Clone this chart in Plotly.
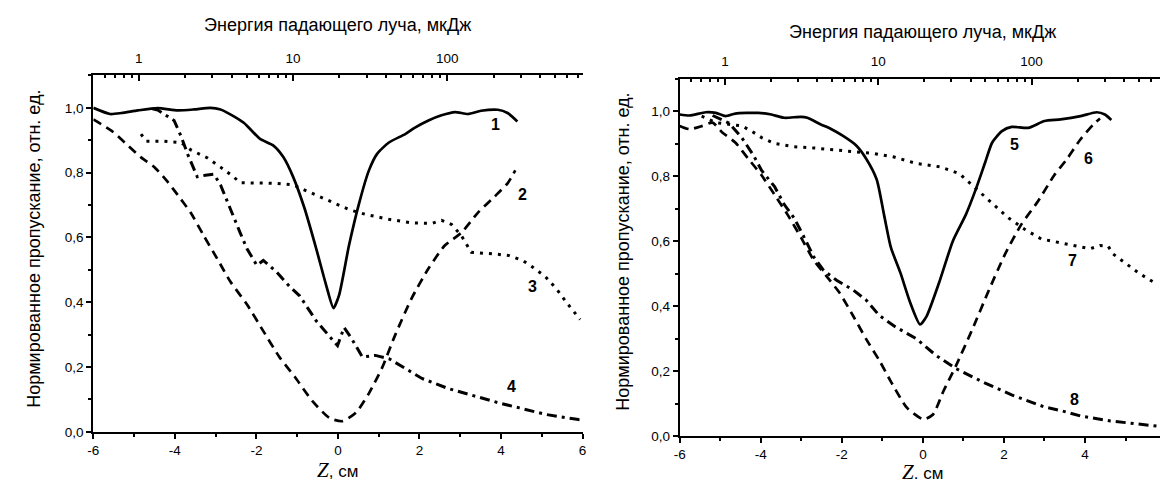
import plotly.graph_objects as go

# ---------------- data (left panel) ----------------
z1 = [-6.0, -5.59, -5.31, -4.91, -4.42, -3.93, -3.53, -3.13, -2.88, -2.64, -2.31, -2.15, -1.91, -1.59,
      -1.34, -1.10, -0.82, -0.53, -0.29, -0.11, 0.03, 0.27, 0.52, 0.76, 0.96, 1.25, 1.65, 1.89, 2.22,
      2.54, 2.87, 3.19, 3.51, 3.92, 4.16, 4.40]
v1 = [1.0, 0.981, 0.984, 0.992, 0.999, 0.992, 0.995, 1.0, 0.995, 0.98, 0.954, 0.934, 0.904, 0.884,
      0.848, 0.787, 0.69, 0.564, 0.453, 0.382, 0.423, 0.575, 0.706, 0.807, 0.858, 0.893, 0.919, 0.939,
      0.961, 0.977, 0.987, 0.981, 0.991, 0.994, 0.984, 0.958]

z2 = [-6.0, -5.55, -5.23, -4.83, -4.50, -4.18, -3.93, -3.61, -3.29, -2.96, -2.64, -2.23, -1.83, -1.43,
      -1.06, -0.62, -0.21, 0.11, 0.44, 0.76, 1.09, 1.41, 1.81, 2.22, 2.62, 3.03, 3.43, 3.84, 4.16, 4.35]
v2 = [0.964, 0.929, 0.893, 0.847, 0.817, 0.772, 0.731, 0.676, 0.605, 0.534, 0.464, 0.393, 0.311, 0.23,
      0.17, 0.094, 0.043, 0.033, 0.059, 0.119, 0.2, 0.301, 0.413, 0.504, 0.575, 0.615, 0.676, 0.726,
      0.767, 0.807]

z3 = [-4.83, -4.70, -4.26, -3.85, -3.61, -3.21, -2.88, -2.56, -2.40, -1.99, -1.51, -1.10, -0.78, -0.21,
      0.27, 0.68, 1.25, 1.81, 2.30, 2.54, 2.79, 3.03, 3.27, 3.84, 4.20, 4.53, 4.77, 5.09, 5.38, 5.62, 5.94]
v3 = [0.919, 0.897, 0.897, 0.893, 0.870, 0.846, 0.817, 0.787, 0.769, 0.767, 0.767, 0.762, 0.744, 0.711,
      0.686, 0.671, 0.656, 0.645, 0.643, 0.653, 0.640, 0.605, 0.554, 0.549, 0.544, 0.529, 0.509, 0.479,
      0.438, 0.397, 0.347]

z4 = [-4.55, -4.42, -4.02, -3.85, -3.69, -3.45, -3.25, -3.04, -2.88, -2.64, -2.40, -2.23, -1.99, -1.83,
      -1.51, -1.18, -0.94, -0.53, -0.01, 0.15, 0.32, 0.60, 0.92, 1.25, 1.65, 2.06, 2.70, 3.51, 3.96, 4.45,
      5.09, 5.90, 6.0]
v4 = [0.997, 0.993, 0.961, 0.913, 0.858, 0.787, 0.792, 0.795, 0.762, 0.686, 0.615, 0.565, 0.514, 0.529,
      0.494, 0.448, 0.42, 0.342, 0.266, 0.322, 0.291, 0.231, 0.236, 0.226, 0.195, 0.165, 0.134, 0.104,
      0.089, 0.074, 0.054, 0.038, 0.037]

# ---------------- data (right panel) ----------------
z5 = [-6.0, -5.76, -5.36, -5.11, -4.87, -4.63, -4.06, -3.74, -3.42, -3.01, -2.85, -2.53, -2.29, -1.97,
      -1.64, -1.40, -1.14, -0.96, -0.79, -0.55, -0.31, -0.07, 0.09, 0.42, 0.74, 1.06, 1.30, 1.54, 1.71,
      1.95, 2.19, 2.60, 3.00, 3.40, 3.89, 4.29, 4.49, 4.65]
v5 = [0.990, 0.987, 0.997, 0.995, 0.985, 0.993, 0.995, 0.990, 0.980, 0.983, 0.980, 0.960, 0.947, 0.924,
      0.894, 0.854, 0.790, 0.682, 0.581, 0.501, 0.410, 0.344, 0.369, 0.480, 0.601, 0.682, 0.758, 0.844,
      0.904, 0.939, 0.952, 0.949, 0.970, 0.975, 0.985, 0.997, 0.990, 0.973]

z6 = [-6.0, -5.76, -5.44, -5.19, -4.95, -4.63, -4.31, -3.98, -3.66, -3.34, -3.01, -2.69, -2.37, -2.05,
      -1.72, -1.40, -1.06, -0.79, -0.39, 0.01, 0.25, 0.50, 0.82, 1.22, 1.63, 2.03, 2.43, 2.84, 3.24, 3.56,
      3.89, 4.21, 4.37]
v6 = [0.955, 0.945, 0.955, 0.965, 0.935, 0.904, 0.854, 0.803, 0.743, 0.682, 0.612, 0.541, 0.491, 0.440,
      0.370, 0.299, 0.23, 0.168, 0.087, 0.052, 0.067, 0.137, 0.218, 0.329, 0.450, 0.561, 0.652, 0.723,
      0.803, 0.854, 0.914, 0.960, 0.978]

z7 = [-5.46, -5.11, -4.79, -4.47, -4.23, -3.98, -3.66, -3.18, -2.69, -2.21, -1.72, -1.22, -0.71, -0.15,
      0.42, 0.90, 1.30, 1.71, 2.11, 2.51, 2.92, 3.44, 3.89, 4.13, 4.37, 4.57, 4.69, 5.02, 5.34, 5.72]
v7 = [0.985, 0.965, 0.960, 0.955, 0.939, 0.919, 0.901, 0.891, 0.887, 0.882, 0.876, 0.870, 0.859, 0.839,
      0.829, 0.808, 0.763, 0.718, 0.672, 0.637, 0.607, 0.594, 0.582, 0.577, 0.587, 0.585, 0.561, 0.531,
      0.501, 0.472]

z8 = [-5.19, -4.79, -4.47, -4.18, -3.98, -3.66, -3.42, -3.18, -2.93, -2.69, -2.45, -2.13, -1.72, -1.40,
      -1.08, -0.71, -0.15, 0.33, 0.82, 1.46, 2.19, 3.00, 3.43, 3.90, 4.63, 5.36, 5.93]
v8 = [0.987, 0.964, 0.919, 0.864, 0.818, 0.768, 0.713, 0.672, 0.612, 0.551, 0.510, 0.480, 0.450, 0.419,
      0.372, 0.339, 0.299, 0.248, 0.208, 0.168, 0.127, 0.090, 0.078, 0.062, 0.047, 0.037, 0.029]

# curve labels: (text, z, value)
labels_left = [("1", 3.86, 0.949), ("2", 4.53, 0.731), ("3", 4.77, 0.448), ("4", 4.25, 0.14)]
labels_right = [("5", 2.27, 0.899), ("6", 4.09, 0.854), ("7", 3.70, 0.541), ("8", 3.75, 0.112)]

y_ticks = [0.0, 0.2, 0.4, 0.6, 0.8, 1.0]
y_ticktext = ["0,0", "0,2", "0,4", "0,6", "0,8", "1,0"]
x_ticks = [-6, -4, -2, 0, 2, 4, 6]
x_ticktext = ["-6", "-4", "-2", "0", "2", "4", "6"]
e_ticks = [1, 10, 100]
e_ticktext = ["1", "10", "100"]
e_minor = [0.6, 0.7, 0.8, 0.9, 2, 3, 4, 5, 6, 7, 8, 9, 20, 30, 40, 50, 60, 70, 80, 90,
           200, 300, 400, 500, 600, 700]

y_title = "Нормированное пропускание, отн. ед."
e_title = "Энергия падающего луча, мкДж"

# ---------------- figure ----------------
W, H = 1168, 485
FONT = "Liberation Sans, Arial, sans-serif"

fig = go.Figure()

SOLID = "solid"
DASH = "9px,6px"
DOT = "3px,6px"
DASHDOT = "10px,5px,3px,5px"


def add(z, v, dash, xa, ya, width=2.7, shape="spline"):
    fig.add_trace(go.Scatter(x=z, y=v, mode="lines", xaxis=xa, yaxis=ya,
                             line=dict(color="black", width=width, dash=dash,
                                       shape=shape, smoothing=0.6),
                             showlegend=False, hoverinfo="skip"))


add(z1, v1, SOLID, "x", "y")
add(z2, v2, DASH, "x", "y")
add(z3, v3, DOT, "x", "y", width=3.0, shape="linear")
add(z4, v4, DASHDOT, "x", "y", width=3.0, shape="linear")
add(z5, v5, SOLID, "x3", "y3")
add(z6, v6, DASH, "x3", "y3")
add(z7, v7, DOT, "x3", "y3", width=3.0, shape="linear")
add(z8, v8, DASHDOT, "x3", "y3", width=3.0, shape="linear")

# invisible traces so the top (energy) axes exist
fig.add_trace(go.Scatter(x=[], y=[], xaxis="x2", yaxis="y", showlegend=False, hoverinfo="skip"))
fig.add_trace(go.Scatter(x=[], y=[], xaxis="x4", yaxis="y3", showlegend=False, hoverinfo="skip"))

# domains in pixels
L_x0, L_x1, L_yb, L_yt = 80, 573.5, 431.0, 431.0 - 1.1 * 329.5
R_x0, R_x1, R_yb, R_yt = 671.5, 1162.0, 435.4, 435.4 - 1.1 * 330.4

tickfont = dict(family=FONT, size=13.5, color="black")

yax = dict(range=[0, 1.1], tickmode="array", tickvals=y_ticks, ticktext=y_ticktext,
           ticks="outside", ticklen=5, tickwidth=1.5, tickcolor="black",
           minor=dict(dtick=0.1, tick0=0, ticks="outside", ticklen=3, tickwidth=1.5, tickcolor="black"),
           showline=True, linewidth=2, linecolor="black", showgrid=False, zeroline=False,
           tickfont=tickfont, fixedrange=True)
xax = dict(range=[-6, 6], tickmode="array", tickvals=x_ticks, ticktext=x_ticktext,
           ticks="outside", ticklen=5, tickwidth=1.5, tickcolor="black",
           minor=dict(dtick=1, tick0=0, ticks="outside", ticklen=3, tickwidth=1.5, tickcolor="black"),
           showline=True, linewidth=2, linecolor="black", showgrid=False, zeroline=False,
           tickfont=tickfont, fixedrange=True, ticklabeloverflow="allow")
eax = dict(type="log", range=[-0.295, 2.877], tickmode="array", tickvals=e_ticks, ticktext=e_ticktext,
           ticks="inside", ticklen=6, tickwidth=1.5, tickcolor="black",
           minor=dict(tickmode="array", tickvals=e_minor, ticks="inside", ticklen=3, tickwidth=1.5,
                      tickcolor="black"),
           showline=True, linewidth=2, linecolor="black", showgrid=False, zeroline=False,
           tickfont=tickfont, side="top", ticklabelstandoff=5, fixedrange=True)

fig.update_layout(
    width=W, height=H,
    margin=dict(l=0, r=0, t=0, b=0),
    paper_bgcolor="white", plot_bgcolor="white",
    showlegend=False,
    xaxis=dict(xax, domain=[L_x0 / W, L_x1 / W], anchor="y"),
    yaxis=dict(yax, domain=[(H - L_yb) / H, (H - L_yt) / H], anchor="x"),
    xaxis2=dict(eax, overlaying="x", anchor="y"),
    xaxis3=dict(xax, domain=[R_x0 / W, R_x1 / W], anchor="y3"),
    yaxis3=dict(yax, domain=[(H - R_yb) / H, (H - R_yt) / H], anchor="x3"),
    xaxis4=dict(eax, overlaying="x3", anchor="y3"),
)

ann = []
for t, z, v in labels_left:
    ann.append(dict(text="<b>%s</b>" % t, x=z, y=v, xref="x", yref="y", showarrow=False,
                    font=dict(family=FONT, size=16, color="black")))
for t, z, v in labels_right:
    ann.append(dict(text="<b>%s</b>" % t, x=z, y=v, xref="x3", yref="y3", showarrow=False,
                    font=dict(family=FONT, size=16, color="black")))

titlefont = dict(family=FONT, size=18, color="black")
# top axis titles
ann.append(dict(text=e_title, x=(L_x0 + L_x1) / 2 / W, y=(H - 17) / H, xref="paper", yref="paper",
                showarrow=False, font=titlefont, xanchor="center", yanchor="middle"))
ann.append(dict(text=e_title, x=(R_x0 + R_x1) / 2 / W, y=(H - 24) / H, xref="paper", yref="paper",
                showarrow=False, font=titlefont, xanchor="center", yanchor="middle"))
# y titles
ann.append(dict(text=y_title, x=20 / W, y=(H - 245) / H, xref="paper", yref="paper", textangle=-90,
                showarrow=False, font=titlefont, xanchor="center", yanchor="middle"))
ann.append(dict(text=y_title, x=614 / W, y=(H - 248) / H, xref="paper", yref="paper", textangle=-90,
                showarrow=False, font=titlefont, xanchor="center", yanchor="middle"))
# bottom titles
zl = '<span style="font-family:Liberation Serif;font-size:21px"><i>Z</i></span>, см'
zr = '<span style="font-family:Liberation Serif;font-size:21px"><i>Z</i></span>. см'
zfont = dict(family=FONT, size=17, color="black")
ann.append(dict(text=zl, x=(L_x0 + L_x1) / 2 / W, y=(H - 470) / H, xref="paper", yref="paper",
                showarrow=False, font=zfont, xanchor="center", yanchor="middle"))
ann.append(dict(text=zr, x=(R_x0 + R_x1) / 2 / W, y=(H - 472) / H, xref="paper", yref="paper",
                showarrow=False, font=zfont, xanchor="center", yanchor="middle"))

fig.update_layout(annotations=ann)
fig.write_html("out.html")
